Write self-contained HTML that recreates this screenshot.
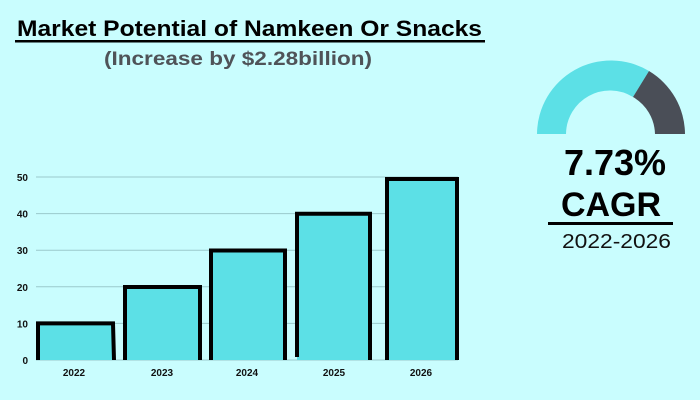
<!DOCTYPE html>
<html><head><style>
body{margin:0;width:700px;height:400px;background:#c9fdfe;overflow:hidden;font-family:"Liberation Sans",sans-serif;}
</style></head><body>
<svg width="700" height="400" xmlns="http://www.w3.org/2000/svg" style="position:absolute;left:0;top:0">
<rect width="700" height="400" fill="#c9fdfe"/>
<text x="17" y="36" font-size="22" font-weight="bold" fill="#000" textLength="465" lengthAdjust="spacingAndGlyphs">Market Potential of Namkeen Or Snacks</text>
<rect x="15" y="40" width="470" height="2.5" fill="#000"/>
<text x="104" y="65" font-size="19" font-weight="bold" fill="#4f5358" textLength="268" lengthAdjust="spacingAndGlyphs">(Increase by $2.28billion)</text>
<g stroke="#9ac9cc" stroke-width="1">
<line x1="36" y1="177" x2="458" y2="177"/><line x1="36" y1="213.6" x2="458" y2="213.6"/>
<line x1="36" y1="250.2" x2="458" y2="250.2"/><line x1="36" y1="286.8" x2="458" y2="286.8"/>
<line x1="36" y1="323.4" x2="458" y2="323.4"/><line x1="36" y1="360" x2="458" y2="360"/>
</g>
<g font-size="10" font-weight="bold" fill="#111" text-anchor="end">
<text x="28" y="181">50</text><text x="28" y="217.6">40</text><text x="28" y="254.2">30</text>
<text x="28" y="290.8">20</text><text x="28" y="327.4">10</text><text x="28" y="364">0</text>
</g>
<g fill="#5ce0e6">
<rect x="38" y="323.4" width="76" height="36.6"/>
<rect x="125" y="287" width="75" height="73"/>
<rect x="211" y="250.5" width="74" height="109.5"/>
<rect x="297" y="213.8" width="73" height="146.2"/>
<rect x="387" y="179" width="70" height="181"/>
</g>
<g fill="none" stroke="#000" stroke-width="4" stroke-linejoin="miter">
<path d="M38 360 V323.4 H113 L114 360"/>
<path d="M125 360 V287 H200 V360"/>
<path d="M211 360 V250.5 H285 V360"/>
<path d="M297 357 V213.8 H370 V360"/>
<path d="M387 360 V179 H457 V360"/>
</g>
<g font-size="10" font-weight="bold" fill="#111" text-anchor="middle">
<text x="74" y="376">2022</text><text x="162" y="376">2023</text><text x="247" y="376">2024</text>
<text x="334" y="376">2025</text><text x="421" y="376">2026</text>
</g>
<path d="M537 134 A74 74 0 0 1 649 71 L633 97 A44 44 0 0 0 566 134 Z" fill="#5ce0e6"/>
<path d="M649 71 A74 74 0 0 1 685 134 L655 134 A44 44 0 0 0 633 97 Z" fill="#4a4e57"/>
<text x="615" y="175" font-size="36" font-weight="bold" fill="#000" text-anchor="middle">7.73%</text>
<text x="611" y="216" font-size="34" font-weight="bold" fill="#000" text-anchor="middle">CAGR</text>
<rect x="548" y="222" width="125" height="3" fill="#000"/>
<text x="562" y="248" font-size="20" fill="#111" textLength="109" lengthAdjust="spacingAndGlyphs">2022-2026</text>
</svg>
</body></html>
